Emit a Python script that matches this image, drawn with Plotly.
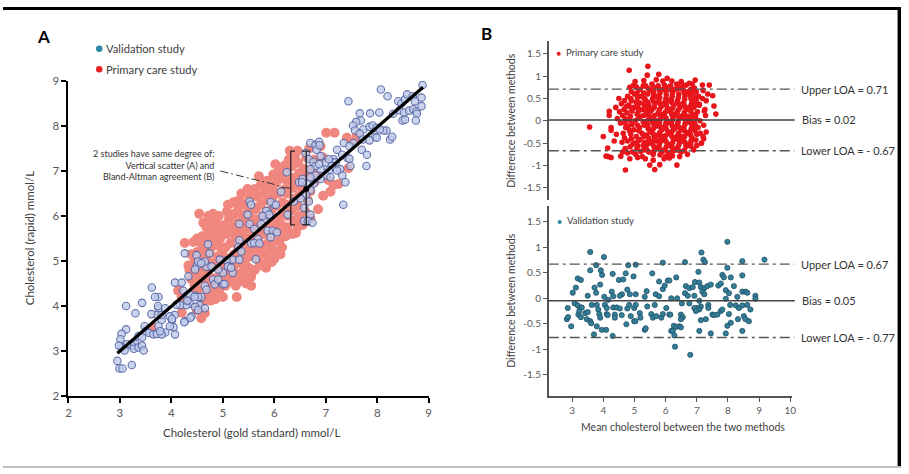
import plotly.graph_objects as go

W, H = 909, 474
FONT = "Lato"

# ---------------- Panel A data (gold standard, rapid) ----------------
validation_A = [
    (8.88,8.91),(8.86,8.63),(8.86,8.44),(8.07,8.81),(8.2,8.66),(7.44,8.55),
    (8.41,8.55),(8.47,8.5),(8.54,8.59),(8.58,8.70),(8.69,8.66),(8.73,8.55),
    (8.43,8.35),(8.52,8.30),(8.62,8.34),(8.70,8.37),(8.76,8.32),(8.77,8.27),
    (8.31,8.27),(8.49,8.12),(8.54,8.14),(8.75,8.12),(8.18,7.9),(8.25,7.7),(8.29,7.76),
    (7.66,8.28),(7.68,8.12),(7.59,8.09),(7.53,8.01),(7.73,7.92),
    (7.86,8.28),(8.04,8.30),(7.85,7.98),(7.91,8.01),(7.99,7.96),(8.12,7.9),(7.96,7.76),(7.99,7.74),(8.05,7.92),
    (7.57,7.9),(7.66,7.83),(7.72,7.7),(7.54,7.62),(7.70,7.47),(7.79,7.11),(7.80,7.36),(7.85,7.68),
    (7.35,7.62),(7.46,7.55),(7.42,7.29),(7.46,7.27),(7.22,7.47),(7.32,7.36),
    (7.48,7.11),(7.15,7.26),(7.19,7.19),(7.28,7.04),(7.32,6.9),(7.38,6.75),(7.34,6.25),
    (6.90,7.33),(7.0,7.19),(7.06,7.26),(7.12,7.11),(6.9,7.04),(7.06,7.01),(7.0,6.90),(7.09,6.86),(7.22,7.01),
    (6.70,7.62),(6.80,7.58),(6.87,7.65),(6.82,7.47),(6.88,7.57),
    (6.61,7.40),(6.67,7.26),(6.76,7.20),(6.80,7.11),(6.87,7.15),(6.70,7.04),(6.80,6.90),(6.90,6.82),(6.77,6.72),
    (6.48,6.75),(6.55,6.82),(6.64,6.72),(6.70,6.57),(6.61,6.47),(6.51,6.39),(6.67,6.32),(6.58,6.18),
    (6.70,6.03),(6.58,5.89),(6.65,5.89),(6.74,5.85),(6.38,6.32),(6.26,6.03),(6.54,6.75),(6.70,6.86),
    (6.24,6.97),(6.13,6.54),(5.87,6.11),(6.0,6.25),(5.52,6.32),(5.48,6.03),(5.52,5.82),(5.81,5.89),
    (5.55,6.25),(5.93,6.31),(6.03,6.25),(5.84,6.11),(5.90,6.03),(5.77,6.0),(5.74,5.82),(5.32,5.82),
    (5.87,5.67),(5.97,5.67),(6.05,5.64),(5.93,5.53),(5.61,5.71),(5.68,5.49),
    (5.32,5.46),(5.30,5.31),(5.36,5.21),(5.55,5.39),(5.61,5.40),(5.71,5.39),
    (5.19,5.03),(5.32,5.03),(5.64,5.04),(5.07,5.01),(4.94,5.03),(5.10,4.88),
    (4.71,5.37),(4.74,5.17),(4.49,5.13),(4.68,4.87),(4.65,4.99),
    (4.49,4.88),(4.46,4.81),(4.33,4.66),(4.52,4.99),
    (4.81,4.59),(4.84,4.48),(4.65,4.45),(5.0,4.48),(5.0,4.74),(5.19,4.74),(5.16,4.85),(4.91,4.81),
    (4.07,4.52),(4.23,4.34),(4.46,4.23),(4.55,4.02),(4.58,4.20),(4.36,4.05),(4.29,4.02),(4.46,3.98),
    (4.17,4.02),(4.10,4.03),(4.06,3.80),(4.01,3.69),(4.26,3.66),(4.39,3.77),
    (3.75,4.20),(3.68,4.20),(3.62,4.41),(3.75,3.95),(3.81,3.69),(3.75,3.55),(3.88,3.41),(4.04,3.53),(4.07,3.37),
    (3.43,4.07),(3.12,4.0),(3.30,3.84),(3.74,4.0),(3.88,3.95),(3.72,3.80),(3.81,3.80),(3.61,3.82),
    (3.97,3.77),(4.01,3.71),(3.97,3.55),
    (3.12,3.48),(3.03,3.38),(3.01,3.26),(3.48,3.55),(3.50,3.44),(3.57,3.40),(3.65,3.37),(3.72,3.38),(3.81,3.37),(3.78,3.44),
    (3.36,3.33),(3.43,3.30),(3.30,3.15),(3.23,3.12),(3.27,3.05),(3.36,3.08),(3.14,3.15),(3.04,3.08),(2.98,3.12),
    (3.43,3.12),(3.46,3.01),(3.09,3.01),(2.95,2.78),(2.99,2.61),(3.05,2.61),(3.23,2.69),
    (4.20,4.52),(4.30,4.23),(4.36,4.25),(4.52,4.20),(4.65,3.95),(4.52,3.91),(4.31,4.12),(4.25,3.64),(4.37,3.74),
    (4.26,5.17),(4.58,4.95),(4.78,4.88),(4.91,4.59),(5.03,4.49),(4.68,4.36),(4.45,4.2),
]

primary_A = [
    (3.64,3.52),(4.2,3.85),(4.13,4.34),(4.31,4.23),(4.2,4.2),(4.26,5.40),(4.33,4.9),(4.38,4.6),
    (4.49,3.91),(4.58,3.73),(4.65,3.84),(4.62,4.1),(4.45,4.45),(4.55,4.6),(4.48,4.75),(4.6,4.85),
    (4.68,5.05),(4.5,5.2),(4.58,5.39),(4.66,5.55),(4.54,6.05),(4.43,5.42),(4.7,4.3),(4.66,4.55),
    (4.52,4.38),(4.7,4.75),(4.62,5.25),(4.45,5.0),
    (4.55,4.9),(4.62,4.7),(4.7,4.95),(4.58,5.1),(4.65,5.35),(4.72,5.15),(4.8,5.4),(4.6,5.55),
    (4.68,5.75),(4.76,5.85),(4.86,5.6),(4.92,5.35),(4.97,4.6),(4.83,4.3),(4.76,4.12),(4.4,4.3),
    (4.42,4.6),(4.35,4.8),(4.38,5.15),(4.5,5.5),(4.62,5.85),(4.72,6.0),
    (4.75,4.25),(4.85,4.15),(4.93,4.35),(4.78,4.5),(4.88,4.62),(4.95,4.78),(4.8,4.95),(4.9,5.1),
    (4.75,5.25),(4.85,5.35),(4.95,5.5),(4.78,5.65),(4.9,5.8),(4.82,5.95),(4.98,5.2),(4.72,5.5),
    (4.96,4.95),(4.88,4.4),(4.99,5.65),(4.74,4.65),(4.92,6.0),(4.81,6.05),
    (5.0,4.2),(5.27,4.2),(5.05,4.45),(5.15,4.55),(5.25,4.45),(5.1,4.7),(5.2,4.85),(5.28,4.7),
    (5.03,4.9),(5.12,5.05),(5.22,5.15),(5.05,5.3),(5.15,5.4),(5.25,5.55),(5.08,5.6),(5.18,5.75),
    (5.28,5.85),(5.02,5.8),(5.12,5.95),(5.22,6.05),(5.3,6.2),(5.08,6.1),(5.2,6.3),(5.28,5.0),
    (5.17,4.62),(5.3,5.3),(5.02,5.1),(5.24,5.7),(5.1,6.25),(5.26,6.32),
    (5.32,4.55),(5.45,4.5),(5.55,4.65),(5.38,4.75),(5.5,4.85),(5.35,4.95),(5.45,5.05),(5.58,5.1),
    (5.4,5.2),(5.52,5.3),(5.35,5.4),(5.45,5.5),(5.58,5.55),(5.38,5.62),(5.5,5.72),(5.34,5.8),
    (5.44,5.9),(5.56,5.95),(5.38,6.02),(5.5,6.1),(5.58,6.2),(5.42,6.25),(5.52,6.4),(5.36,6.5),
    (5.48,6.6),(5.6,6.55),(5.55,4.45),(5.42,4.65),(5.33,6.35),(5.57,5.8),(5.47,5.22),
    (5.62,4.8),(5.75,4.9),(5.85,4.95),(5.68,5.05),(5.8,5.15),(5.65,5.25),(5.76,5.35),(5.88,5.4),
    (5.68,5.5),(5.8,5.6),(5.64,5.68),(5.74,5.78),(5.86,5.85),(5.66,5.92),(5.78,6.0),(5.88,6.1),
    (5.64,6.15),(5.74,6.25),(5.86,6.35),(5.68,6.42),(5.8,6.52),(5.62,6.6),(5.74,6.7),(5.86,6.78),
    (5.7,6.88),(5.9,5.2),(5.84,4.85),(5.9,6.6),(5.72,4.95),(5.95,4.98),(6.0,5.05),
    (5.92,5.15),(6.05,5.2),(6.15,5.3),(5.96,5.38),(6.1,5.45),(6.18,5.6),(5.94,5.58),(6.04,5.7),
    (6.14,5.8),(5.96,5.85),(6.08,5.95),(6.18,6.05),(5.94,6.12),(6.04,6.22),(6.16,6.3),(5.96,6.4),
    (6.08,6.5),(6.18,6.58),(5.94,6.65),(6.04,6.75),(6.14,6.85),(5.98,6.92),(6.1,7.02),(6.2,7.12),
    (6.02,7.15),(6.12,5.15),(6.2,6.82),(6.0,6.55),
    (6.22,5.55),(6.35,5.6),(6.45,5.75),(6.25,5.75),(6.38,5.9),(6.48,6.0),(6.24,6.0),(6.34,6.12),
    (6.46,6.22),(6.26,6.25),(6.38,6.38),(6.48,6.45),(6.24,6.5),(6.36,6.62),(6.46,6.7),(6.26,6.75),
    (6.38,6.85),(6.48,6.95),(6.24,7.0),(6.34,7.1),(6.46,7.18),(6.28,7.25),(6.4,7.35),(6.3,7.45),
    (6.45,7.45),(6.5,5.82),(6.42,5.62),
    (6.55,5.8),(6.6,6.1),(6.65,6.35),(6.55,6.6),(6.7,6.55),(6.62,6.85),(6.78,6.75),(6.58,7.05),
    (6.72,7.0),(6.85,6.9),(6.62,7.3),(6.78,7.25),(6.95,7.3),(6.68,7.5),(6.9,7.55),(7.01,7.85),
    (7.17,7.85),(7.41,7.74),(7.56,7.63),(7.6,7.77),(7.44,7.06),(7.09,6.54),(7.15,6.69),(7.25,6.71),
    (6.85,6.15),(6.95,6.45),(7.05,6.8),(6.7,5.95),
]

regression_x = [2.95, 8.89]
regression_y = [2.95, 8.86]

bracket_left_x = [6.40, 6.32, 6.32, 6.40]
bracket_left_y = [7.44, 7.44, 5.80, 5.80]
bracket_right_x = [6.54, 6.70, None, 6.62, 6.62, None, 6.54, 6.70]
bracket_right_y = [7.44, 7.44, None, 7.44, 5.80, None, 5.80, 5.80]
leader_x = [4.95, 5.68, 6.00, 6.13, 6.32]
leader_y = [7.00, 6.79, 6.70, 6.64, 6.62]
centre_point = (6.62, 6.60)

# ---------------- Panel B data (mean, difference) ----------------
primary_B = [
    (3.56,-0.14),(4.0,-0.35),(4.14,-0.61),(4.09,-0.79),(4.16,-0.8),(4.25,-0.82),(4.19,0.21),(4.19,0.12),
    (4.25,-0.15),(4.25,-0.21),(4.56,-0.79),(4.71,-1.1),(4.83,1.13),(4.96,0.79),(5.06,0.76),(5.43,1.22),
    (5.41,1.02),(5.78,1.04),(5.49,-0.99),(5.65,-1.09),(5.81,-0.98),(6.12,-0.83),(6.36,-0.99),(5.91,0.89),
    (6.2,0.89),(6.37,0.80),(6.95,0.91),(7.18,0.8),(7.4,0.8),(7.55,0.33),(7.61,0.15),(7.22,-0.4),
    (7.51,0.56),(7.26,0.25),(7.28,0.12),
    (4.58,0.38),(4.62,0.12),(4.55,-0.05),(4.64,-0.28),(4.6,-0.48),(4.68,0.45),(4.7,-0.62),(4.66,0.25),
    (4.72,-0.15),(4.52,0.2),
    (4.78,0.55),(4.82,0.35),(4.76,0.18),(4.85,0.02),(4.8,-0.12),(4.88,-0.3),(4.78,-0.45),(4.86,-0.58),
    (4.9,0.65),(4.92,0.22),(4.94,-0.7),(4.84,-0.22),(4.9,0.45),
    (5.0,0.6),(5.05,0.42),(4.98,0.3),(5.08,0.15),(5.02,0.0),(5.1,-0.1),(4.98,-0.2),(5.06,-0.35),
    (5.0,-0.5),(5.08,-0.62),(5.04,-0.75),(5.1,0.52),(5.12,0.28),
    (5.18,0.7),(5.22,0.55),(5.16,0.4),(5.26,0.25),(5.2,0.1),(5.28,-0.02),(5.16,-0.15),(5.24,-0.28),
    (5.18,-0.42),(5.28,-0.55),(5.2,-0.68),(5.3,0.62),(5.3,0.38),(5.25,-0.8),
    (5.36,0.78),(5.42,0.6),(5.34,0.48),(5.46,0.35),(5.38,0.2),(5.48,0.08),(5.36,-0.05),(5.44,-0.18),
    (5.38,-0.32),(5.48,-0.45),(5.36,-0.58),(5.46,-0.7),(5.5,0.68),(5.52,0.22),(5.5,-0.25),
    (5.56,0.82),(5.62,0.66),(5.58,0.5),(5.66,0.38),(5.56,0.25),(5.64,0.12),(5.58,-0.02),(5.68,-0.12),
    (5.56,-0.25),(5.64,-0.38),(5.58,-0.52),(5.68,-0.62),(5.6,-0.75),(5.7,0.55),(5.7,0.0),(5.72,-0.45),
    (5.76,0.78),(5.82,0.62),(5.78,0.45),(5.86,0.32),(5.76,0.18),(5.84,0.05),(5.78,-0.08),(5.88,-0.2),
    (5.76,-0.32),(5.86,-0.45),(5.78,-0.58),(5.88,-0.7),(5.9,0.7),(5.92,0.15),(5.9,-0.35),
    (5.96,0.8),(6.02,0.58),(5.98,0.42),(6.06,0.28),(5.96,0.12),(6.04,0.0),(5.98,-0.12),(6.08,-0.25),
    (5.96,-0.4),(6.06,-0.52),(5.98,-0.65),(6.08,-0.72),(6.1,0.7),(6.12,0.45),(6.12,-0.05),
    (6.16,0.78),(6.22,0.62),(6.18,0.48),(6.26,0.35),(6.16,0.2),(6.24,0.08),(6.18,-0.05),(6.28,-0.18),
    (6.16,-0.3),(6.26,-0.42),(6.18,-0.55),(6.28,-0.66),(6.3,0.7),(6.3,0.15),(6.22,-0.78),
    (6.36,0.82),(6.42,0.6),(6.38,0.45),(6.46,0.3),(6.36,0.18),(6.44,0.05),(6.38,-0.08),(6.48,-0.2),
    (6.36,-0.35),(6.46,-0.48),(6.38,-0.6),(6.5,-0.7),(6.5,0.72),(6.52,0.1),(6.5,-0.35),
    (6.56,0.7),(6.62,0.55),(6.58,0.4),(6.66,0.25),(6.56,0.12),(6.64,-0.02),(6.58,-0.15),(6.68,-0.28),
    (6.56,-0.42),(6.66,-0.55),(6.6,-0.66),(6.7,0.65),(6.7,0.1),(6.66,0.8),
    (6.78,0.58),(6.84,0.42),(6.76,0.3),(6.86,0.15),(6.78,0.0),(6.86,-0.12),(6.76,-0.25),(6.84,-0.38),
    (6.8,-0.5),(6.88,0.62),(6.9,0.3),(6.92,-0.05),
    (6.98,0.45),(7.02,0.2),(6.96,0.05),(7.04,-0.15),(7.0,-0.3),(7.08,0.35),(7.1,0.0),(6.98,0.65),(7.06,0.55),
    (7.11,-0.28),(7.08,0.37),(7.24,0.22),(6.92,0.73),(6.55,0.80),(6.76,0.84),(6.02,0.75),(6.97,-0.43),
    (6.81,-0.57),(6.66,-0.57),(7.3,0.45),(7.35,0.6),(7.2,0.68),(7.15,-0.5),
    # denser core
    (4.7,0.05),(4.68,-0.38),(4.74,0.32),(4.7,-0.05),
    (4.88,0.5),(4.9,0.28),(4.87,0.1),(4.92,-0.08),(4.9,-0.4),(4.95,-0.52),
    (5.08,0.62),(5.1,0.36),(5.12,0.05),(5.14,-0.22),(5.12,-0.45),(5.1,-0.56),(5.13,0.22),(5.14,0.7),
    (5.28,0.78),(5.31,0.5),(5.33,0.3),(5.3,0.12),(5.32,-0.1),(5.3,-0.35),(5.33,-0.48),(5.31,-0.65),
    (5.44,0.72),(5.42,0.42),(5.46,0.12),(5.41,0.0),(5.43,-0.1),(5.45,-0.38),(5.42,-0.52),(5.4,-0.65),(5.44,0.28),
    (5.62,0.75),(5.61,0.58),(5.6,0.44),(5.63,0.3),(5.6,0.06),(5.62,-0.07),(5.6,-0.18),(5.62,-0.31),
    (5.61,-0.45),(5.63,-0.58),(5.62,-0.68),
    (5.8,0.7),(5.81,0.52),(5.83,0.38),(5.8,0.25),(5.82,0.12),(5.8,-0.02),(5.83,-0.14),(5.81,-0.26),
    (5.83,-0.4),(5.8,-0.52),(5.83,-0.64),(5.82,-0.76),
    (6.0,0.68),(6.01,0.5),(6.02,0.35),(6.0,0.2),(6.01,0.06),(6.0,-0.06),(6.02,-0.18),(6.0,-0.33),
    (6.01,-0.46),(6.02,-0.58),(6.0,-0.8),
    (6.2,0.7),(6.21,0.55),(6.2,0.41),(6.22,0.28),(6.2,0.14),(6.21,0.01),(6.22,-0.12),(6.2,-0.24),
    (6.21,-0.36),(6.22,-0.49),(6.21,-0.6),(6.2,-0.7),
    (6.4,0.72),(6.41,0.52),(6.42,0.38),(6.4,0.24),(6.41,0.11),(6.4,-0.02),(6.42,-0.14),(6.41,-0.28),
    (6.4,-0.42),(6.42,-0.54),(6.41,-0.66),
    (6.6,0.62),(6.61,0.48),(6.62,0.32),(6.6,0.19),(6.61,0.05),(6.62,-0.08),(6.6,-0.22),(6.61,-0.35),(6.62,-0.48),
    (6.8,0.7),(6.81,0.5),(6.82,0.36),(6.8,0.22),(6.81,0.08),(6.8,-0.05),(6.82,-0.18),(6.8,-0.32),(6.82,-0.44),
    (6.95,0.52),(6.94,0.35),(6.96,0.12),(6.95,-0.1),(6.94,-0.22),
    # fringe
    (4.45,0.05),(4.42,-0.3),(4.5,0.5),(4.35,-0.45),(4.4,0.3),(4.62,-0.7),(4.78,-0.72),(4.85,0.75),
    (5.02,0.88),(5.3,0.9),(5.7,0.92),(6.05,0.95),(6.5,0.88),(6.85,0.82),(7.18,0.5),(7.22,-0.1),
    (7.3,-0.25),(7.2,-0.35),(7.0,-0.55),(6.9,-0.65),(6.7,-0.75),(6.45,-0.8),(5.95,-0.85),(5.6,-0.88),
    (5.35,-0.85),(5.1,-0.82),(4.85,-0.85),
]

validation_B = [
    (3.58,0.91),(4.02,0.81),(3.77,0.65),(3.58,0.55),(3.92,0.55),(3.96,0.46),(3.18,0.39),(3.28,0.36),
    (3.12,0.21),(3.02,0.11),(3.72,0.21),(3.50,0.05),(3.90,0.27),(3.77,0.11),(4.30,0.48),(4.5,0.36),
    (4.64,0.37),(4.72,0.49),(4.80,0.65),(5.04,0.66),(4.97,0.43),(4.77,0.17),(4.85,0.08),(4.6,0.08),
    (4.53,0.05),(4.27,0.13),(4.32,0.04),(4.03,0.03),(4.16,-0.03),(5.04,0.08),(5.39,0.14),(5.33,0.03),
    (5.57,0.49),(5.68,0.08),(5.79,0.04),(5.79,0.33),(5.91,0.18),(5.97,0.25),(6.07,0.35),(5.91,0.70),
    (2.86,-0.19),(2.83,-0.41),(2.87,-0.37),(2.97,-0.55),(3.08,-0.1),(3.18,-0.14),(3.26,-0.19),(3.31,-0.18),
    (3.2,-0.32),(3.28,-0.37),(3.23,-0.25),(3.42,-0.29),(3.5,-0.27),(3.47,-0.41),(3.58,-0.45),(3.61,-0.49),
    (3.70,-0.71),(3.79,-0.55),(3.95,-0.62),(4.09,-0.62),(4.3,-0.74),(3.63,-0.13),(3.79,-0.13),
    (3.84,-0.22),(3.87,-0.31),(3.9,-0.38),(4.05,-0.13),(4.11,-0.19),(4.11,-0.31),(4.14,-0.33),
    (4.32,-0.18),(4.37,-0.32),(4.37,-0.38),(4.43,-0.18),(4.53,-0.2),(4.59,-0.33),(4.74,-0.51),(4.77,-0.2),
    (4.83,-0.13),(4.88,-0.35),(4.99,-0.19),(5.04,-0.13),(4.99,-0.45),(5.03,-0.45),(5.17,-0.29),(5.19,-0.38),
    (5.33,-0.62),(5.36,-0.59),(5.41,-0.16),(5.54,-0.31),(5.65,-0.13),(5.59,-0.38),(5.7,-0.35),(5.86,-0.38),
    (5.91,-0.31),(6.02,-0.19),(6.12,-0.32),(6.18,-0.64),
    (7.98,1.11),(7.15,0.90),(7.21,0.76),(7.26,0.71),(6.62,0.71),(8.46,0.73),(9.17,0.76),(7.98,0.60),
    (7.05,0.52),(6.34,0.41),(6.12,0.35),(7.82,0.46),(7.87,0.41),(8.09,0.41),(8.46,0.45),
    (6.65,0.24),(6.76,0.2),(6.87,0.22),(6.94,0.32),(7.08,0.31),(7.13,0.22),(7.24,0.2),(7.34,0.24),
    (7.45,0.27),(7.69,0.25),(7.77,0.29),(7.93,0.16),(8.03,0.1),(8.19,0.24),(8.46,0.13),(8.56,0.13),
    (8.62,0.11),(8.88,0.05),(8.88,-0.01),(6.62,0.1),(6.71,0.05),(6.92,0.05),(7.18,0.13),(7.24,0.08),
    (6.18,0.0),(6.37,0.0),(6.52,-0.1),(6.76,-0.1),(7.08,-0.05),(7.93,-0.01),(8.3,0.03),
    (7.37,-0.13),(7.37,-0.19),(7.13,-0.16),(7.08,-0.22),(7.0,-0.19),(6.92,-0.19),(6.97,-0.25),
    (6.15,-0.32),(6.49,-0.32),(6.55,-0.37),(6.49,-0.41),(7.13,-0.43),(7.29,-0.41),(7.5,-0.32),
    (7.56,-0.33),(7.66,-0.32),(7.77,-0.25),(7.82,-0.22),(8.07,-0.13),(8.03,-0.31),(8.09,-0.48),
    (7.98,-0.54),(8.25,-0.14),(8.35,-0.19),(8.46,-0.14),(8.62,-0.13),(8.72,-0.22),(8.32,-0.41),
    (8.51,-0.35),(8.56,-0.41),(8.67,-0.45),(6.26,-0.54),(6.34,-0.56),(6.44,-0.55),(6.49,-0.57),
    (6.23,-0.64),(6.28,-0.73),(7.08,-0.64),(7.45,-0.69),(7.93,-0.69),(8.46,-0.64),(6.3,-0.95),(6.79,-1.11),
]

bias_top, upper_top, lower_top = 0.02, 0.71, -0.67
bias_bot, upper_bot, lower_bot = -0.05, 0.67, -0.77
labels_top = ["Upper LOA = 0.71", "Bias = 0.02", "Lower LOA = - 0.67"]
labels_bot = ["Upper LOA = 0.67", "Bias = 0.05", "Lower LOA = - 0.77"]

a_ticks = [2, 3, 4, 5, 6, 7, 8, 9]
b_xticks = [3, 4, 5, 6, 7, 8, 9, 10]
b_yticks = [-1.5, -1, -0.5, 0, 0.5, 1, 1.5]
b_yticktext = ["-1.5", "-1", "-0.5", "0", "0.5", "1", "1.5"]

# ---------------------------------------------------------------
def px(x):
    return x / W

def py(y):
    return 1 - y / H

def xs(pts):
    return [p[0] for p in pts]

def ys(pts):
    return [p[1] for p in pts]

fig = go.Figure()

# Panel A
fig.add_trace(go.Scatter(x=xs(primary_A), y=ys(primary_A), mode="markers", xaxis="x", yaxis="y",
                         marker=dict(size=10, color="#f0877f"), showlegend=False))
fig.add_trace(go.Scatter(x=xs(validation_A), y=ys(validation_A), mode="markers", xaxis="x", yaxis="y",
                         marker=dict(size=7.5, color="rgba(190,203,234,0.8)",
                                     line=dict(color="rgba(80,95,160,0.85)", width=1.1)),
                         showlegend=False))
fig.add_trace(go.Scatter(x=regression_x, y=regression_y, mode="lines", xaxis="x", yaxis="y",
                         line=dict(color="black", width=3.2), showlegend=False))
fig.add_trace(go.Scatter(x=leader_x, y=leader_y, mode="lines", xaxis="x", yaxis="y",
                         line=dict(color="#333333", width=1, dash="8px,3px,2px,3px", shape="spline"),
                         showlegend=False))
fig.add_trace(go.Scatter(x=bracket_left_x, y=bracket_left_y, mode="lines", xaxis="x", yaxis="y",
                         line=dict(color="#222222", width=1.3), showlegend=False))
fig.add_trace(go.Scatter(x=bracket_right_x, y=bracket_right_y, mode="lines", xaxis="x", yaxis="y",
                         line=dict(color="#222222", width=1.3), showlegend=False, connectgaps=False))
fig.add_trace(go.Scatter(x=[centre_point[0]], y=[centre_point[1]], mode="markers", xaxis="x", yaxis="y",
                         marker=dict(size=6, color="black"), showlegend=False))

# Panel B top
fig.add_trace(go.Scatter(x=xs(primary_B), y=ys(primary_B), mode="markers", xaxis="x2", yaxis="y2",
                         marker=dict(size=5.6, color="#e8151b"), showlegend=False))
# Panel B bottom
fig.add_trace(go.Scatter(x=xs(validation_B), y=ys(validation_B), mode="markers", xaxis="x3", yaxis="y3",
                         marker=dict(size=5.2, color="#347f98", line=dict(color="#1f4f66", width=0.8)),
                         showlegend=False))

shapes = []
dashdot = "10px,4px,3px,4px"
for yref, bias, up, lo in [("y2", bias_top, upper_top, lower_top), ("y3", bias_bot, upper_bot, lower_bot)]:
    xref = "x2 domain" if yref == "y2" else "x3 domain"
    shapes.append(dict(type="line", xref=xref, yref=yref, x0=0, x1=1.012, y0=bias, y1=bias,
                       line=dict(color="#444444", width=1.5), layer="above"))
    for v in (up, lo):
        shapes.append(dict(type="line", xref=xref, yref=yref, x0=0, x1=1.01, y0=v, y1=v,
                           line=dict(color="#555555", width=1.3, dash=dashdot), layer="above"))

# frame
shapes.append(dict(type="rect", xref="paper", yref="paper", x0=0, x1=px(905), y0=py(3), y1=1,
                   fillcolor="black", line=dict(width=0)))
shapes.append(dict(type="rect", xref="paper", yref="paper", x0=px(901.5), x1=px(905), y0=py(472), y1=1,
                   fillcolor="black", line=dict(width=0)))
shapes.append(dict(type="line", xref="paper", yref="paper", x0=0, x1=px(905), y0=py(473), y1=py(473),
                   line=dict(color="#bdbdbd", width=2)))

# legend dots
def dot(cx, cy, d, color):
    return dict(type="circle", xref="paper", yref="paper", xsizemode="pixel", ysizemode="pixel",
                xanchor=px(cx), yanchor=py(cy), x0=-d / 2, x1=d / 2, y0=-d / 2, y1=d / 2,
                fillcolor=color, line=dict(width=0))

shapes += [dot(97, 43, 6.5, "#2a87a2"), dot(97, 64, 6.5, "#e8201e"),
           dot(560, 48, 4, "#e8151b"), dot(561, 221, 4, "#2a87a2")]

ann = []
def text(x, y, s, size, color="#404040", xanchor="left", yanchor="middle", angle=0, bold=False, align="left"):
    ann.append(dict(x=px(x), y=py(y), xref="paper", yref="paper", text=(f"<b>{s}</b>" if bold else s),
                    showarrow=False, xanchor=xanchor, yanchor=yanchor, textangle=angle, align=align,
                    font=dict(family=FONT, size=size, color=color)))

text(41, 30, "A", 17, color="black", xanchor="center", bold=True)
text(487, 27, "B", 17, color="black", xanchor="center", bold=True)
text(102, 43, "Validation study", 11.2)
text(102, 64, "Primary care study", 11.2)
text(27, 238, "Cholesterol (rapid) mmol/L", 11.5, xanchor="center", angle=-90)
text(250, 437, "Cholesterol (gold standard) mmol/L", 11.5, xanchor="center")
text(215, 162, "2 studies have same degree of:<br>Vertical scatter (A) and<br>Bland-Altman agreement (B)",
     9, color="#333333", xanchor="right", align="right")
text(565, 47, "Primary care study", 9.5)
text(566, 220, "Validation study", 9.5)
text(512, 117, "Difference between methods", 10.5, xanchor="center", angle=-90)
text(512, 302, "Difference between methods", 10.5, xanchor="center", angle=-90)
text(685, 432, "Mean cholesterol between the two methods", 10.5, xanchor="center")

for yref, vals, labels in [("y2", (upper_top, bias_top, lower_top), labels_top),
                           ("y3", (upper_bot, bias_bot, lower_bot), labels_bot)]:
    xref = "x2 domain" if yref == "y2" else "x3 domain"
    for v, lab in zip(vals, labels):
        ann.append(dict(x=1.03 if "Bias" not in lab else 1.035, y=v, xref=xref, yref=yref, text=lab,
                        showarrow=False, xanchor="left", yanchor="middle",
                        font=dict(family=FONT, size=11, color="#333333")))

axA = dict(showline=True, linecolor="black", linewidth=2, ticks="outside", ticklen=5, tickwidth=2,
           tickcolor="black", showgrid=False, zeroline=False,
           tickfont=dict(family=FONT, size=11.5, color="#595959"))
axB = dict(showline=True, linecolor="#555555", linewidth=1.5, ticks="outside", ticklen=4, tickwidth=1.2,
           tickcolor="#555555", showgrid=False, zeroline=False,
           tickfont=dict(family=FONT, size=10, color="#595959"))

fig.update_layout(
    width=W, height=H, margin=dict(l=0, r=0, t=0, b=0),
    paper_bgcolor="white", plot_bgcolor="rgba(0,0,0,0)", showlegend=False,
    xaxis=dict(domain=[px(66), px(429)], range=[2, 9], tickvals=a_ticks, anchor="y", **axA),
    yaxis=dict(domain=[py(400), py(76)], range=[2, 9], tickvals=a_ticks, anchor="x", **axA),
    xaxis2=dict(domain=[px(550), px(795)], range=[2.25, 10.05], visible=False, anchor="y2"),
    yaxis2=dict(domain=[py(198), py(35)], range=[-1.761, 1.783], tickvals=b_yticks, ticktext=b_yticktext,
                anchor="x2", **axB),
    xaxis3=dict(domain=[px(550), px(795)], range=[2.25, 10.05], tickvals=b_xticks, anchor="y3", **axB),
    yaxis3=dict(domain=[py(400), py(205)], range=[-1.92, 1.806], tickvals=b_yticks, ticktext=b_yticktext,
                anchor="x3", **axB),
    shapes=shapes, annotations=ann,
)

fig.write_html("out.html")
